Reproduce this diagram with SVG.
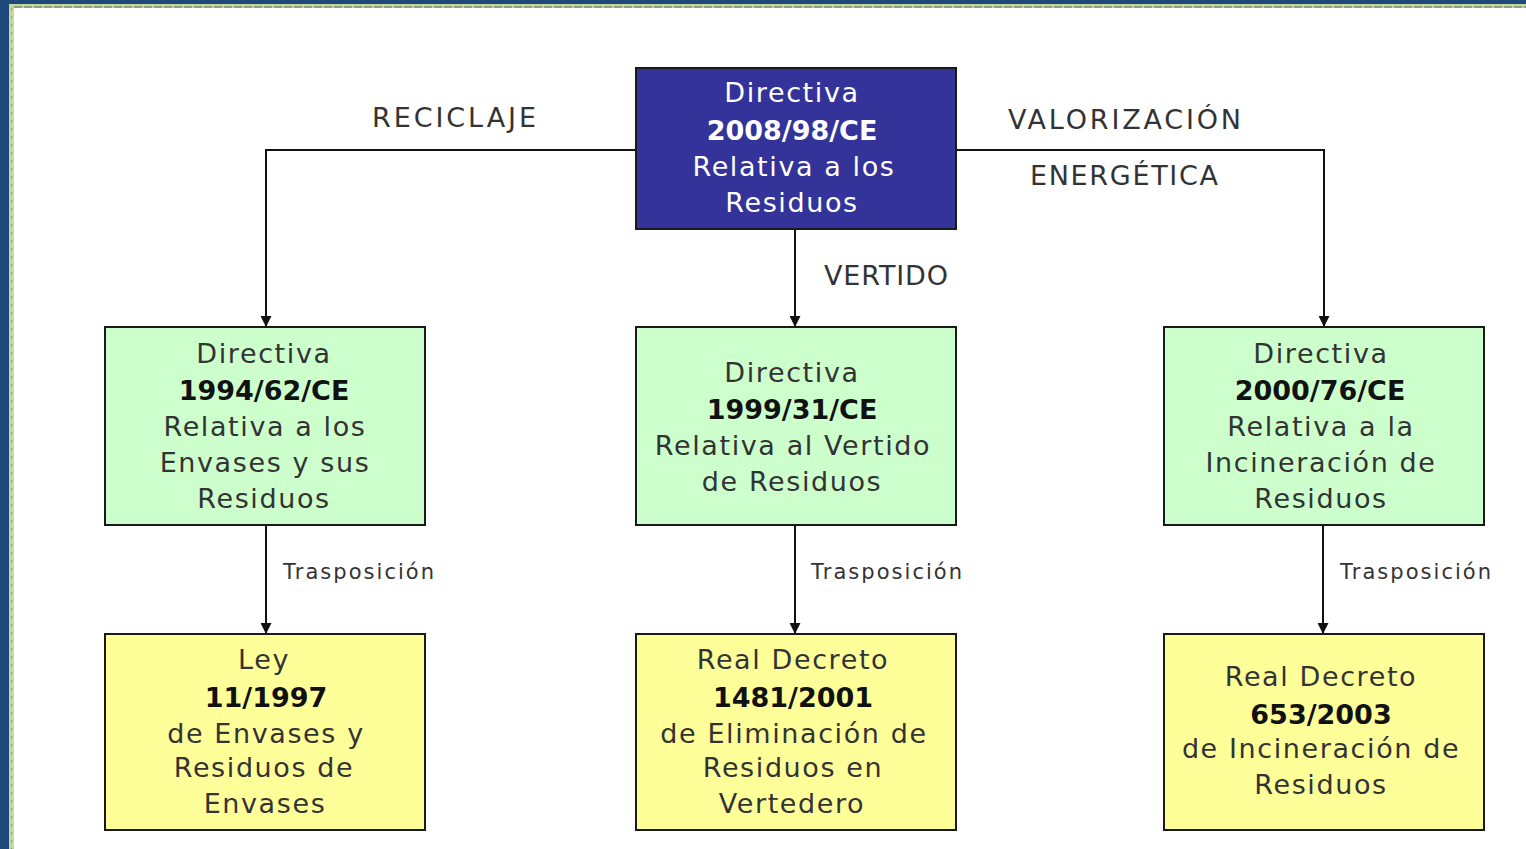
<svg xmlns="http://www.w3.org/2000/svg" width="1526" height="849" viewBox="0 0 1526 849">
<defs>
<style>
.box{stroke:#1a1a1a;stroke-width:2}
.t{font-family:"DejaVu Sans","Liberation Sans",sans-serif;font-size:27px;text-anchor:middle;fill:#333333;letter-spacing:1.6px}
.b{font-weight:bold;fill:#111111;letter-spacing:0}
.w{fill:#ffffff}
.lbl{font-family:"DejaVu Sans","Liberation Sans",sans-serif;font-size:27px;fill:#333333}
.tr{font-family:"DejaVu Sans","Liberation Sans",sans-serif;font-size:21px;fill:#333333}
.c{fill:none;stroke:#111111;stroke-width:2}
</style>
<marker id="ah" viewBox="0 0 10 10" refX="10" refY="5" markerWidth="11" markerHeight="11" markerUnits="userSpaceOnUse" orient="auto">
<path d="M0,0 L10,5 L0,10 Z" fill="#111111"/>
</marker>
</defs>
<rect x="0" y="0" width="1526" height="849" fill="#1F497D"/>
<rect x="9" y="4" width="1517" height="845" fill="#C4D79B"/>
<rect x="14" y="8" width="1512" height="841" fill="#ffffff"/>
<line x1="11.5" y1="8" x2="11.5" y2="849" stroke="#8a9a8a" stroke-width="1" stroke-dasharray="2,6"/>
<line x1="14" y1="7" x2="1526" y2="7" stroke="#7a9080" stroke-width="1.5" stroke-dasharray="8,2"/>

<g id="connectors">
<polyline class="c" points="636,150 266,150 266,327" marker-end="url(#ah)"/>
<polyline class="c" points="956,150 1324,150 1324,327" marker-end="url(#ah)"/>
<line class="c" x1="795" y1="229" x2="795" y2="327" marker-end="url(#ah)"/>
<line class="c" x1="266" y1="525" x2="266" y2="634" marker-end="url(#ah)"/>
<line class="c" x1="795" y1="525" x2="795" y2="634" marker-end="url(#ah)"/>
<line class="c" x1="1323" y1="525" x2="1323" y2="634" marker-end="url(#ah)"/>
<text class="lbl" x="372" y="127" textLength="164" lengthAdjust="spacing">RECICLAJE</text>
<text class="lbl" x="1008" y="129" textLength="233" lengthAdjust="spacing">VALORIZACIÓN</text>
<text class="lbl" x="1030" y="185" textLength="188" lengthAdjust="spacing">ENERGÉTICA</text>
<text class="lbl" x="824" y="285" textLength="124" lengthAdjust="spacing">VERTIDO</text>
<text class="tr" x="283" y="579" textLength="151" lengthAdjust="spacing">Trasposición</text>
<text class="tr" x="811" y="579" textLength="151" lengthAdjust="spacing">Trasposición</text>
<text class="tr" x="1340" y="579" textLength="151" lengthAdjust="spacing">Trasposición</text>
</g>

<g id="top">
<rect class="box" x="636" y="68" width="320" height="161" fill="#333399"/>
<text class="t w" x="792" y="102">Directiva</text>
<text class="t w b" x="792" y="140">2008/98/CE</text>
<text class="t w" x="794" y="176">Relativa a los</text>
<text class="t w" x="792" y="212">Residuos</text>
</g>

<g id="dir94">
<rect class="box" x="105" y="327" width="320" height="198" fill="#CCFFCC"/>
<text class="t" x="264" y="363">Directiva</text>
<text class="t b" x="264" y="400">1994/62/CE</text>
<text class="t" x="265" y="436">Relativa a los</text>
<text class="t" x="265" y="472">Envases y sus</text>
<text class="t" x="264" y="508">Residuos</text>
</g>

<g id="dir99">
<rect class="box" x="636" y="327" width="320" height="198" fill="#CCFFCC"/>
<text class="t" x="792" y="382">Directiva</text>
<text class="t b" x="792" y="419">1999/31/CE</text>
<text class="t" x="793" y="455">Relativa al Vertido</text>
<text class="t" x="792" y="491">de Residuos</text>
</g>

<g id="dir2000">
<rect class="box" x="1164" y="327" width="320" height="198" fill="#CCFFCC"/>
<text class="t" x="1321" y="363">Directiva</text>
<text class="t b" x="1320" y="400">2000/76/CE</text>
<text class="t" x="1321" y="436">Relativa a la</text>
<text class="t" x="1321" y="472">Incineración de</text>
<text class="t" x="1321" y="508">Residuos</text>
</g>

<g id="ley">
<rect class="box" x="105" y="634" width="320" height="196" fill="#FFFF99"/>
<text class="t" x="264" y="669">Ley</text>
<text class="t b" x="266" y="707">11/1997</text>
<text class="t" x="266" y="743">de Envases y</text>
<text class="t" x="264" y="777">Residuos de</text>
<text class="t" x="265" y="813">Envases</text>
</g>

<g id="rd1481">
<rect class="box" x="636" y="634" width="320" height="196" fill="#FFFF99"/>
<text class="t" x="793" y="669">Real Decreto</text>
<text class="t b" x="793" y="707">1481/2001</text>
<text class="t" x="794" y="743">de Eliminación de</text>
<text class="t" x="793" y="777">Residuos en</text>
<text class="t" x="792" y="813">Vertedero</text>
</g>

<g id="rd653">
<rect class="box" x="1164" y="634" width="320" height="196" fill="#FFFF99"/>
<text class="t" x="1321" y="686">Real Decreto</text>
<text class="t b" x="1321" y="724">653/2003</text>
<text class="t" x="1321" y="758">de Incineración de</text>
<text class="t" x="1321" y="794">Residuos</text>
</g>
</svg>
